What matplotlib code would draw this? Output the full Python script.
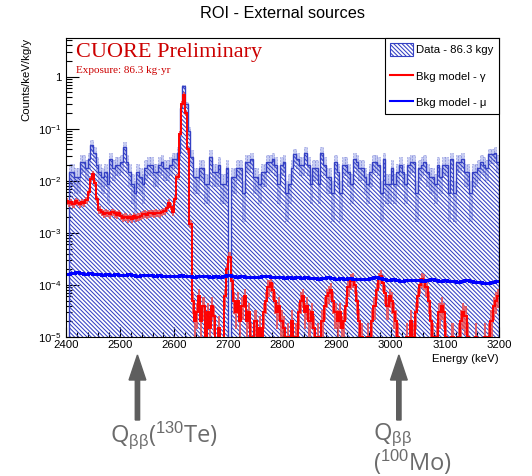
import numpy as np
import matplotlib
matplotlib.use('Agg')
import matplotlib.pyplot as plt
from matplotlib.patches import Patch, FancyArrow
from matplotlib.lines import Line2D
from matplotlib.ticker import MultipleLocator, LogLocator, FuncFormatter, NullFormatter
from matplotlib.transforms import blended_transform_factory

plt.rcParams['font.family'] = ['Liberation Sans', 'DejaVu Sans']
plt.rcParams['mathtext.fontset'] = 'custom'
plt.rcParams['mathtext.rm'] = 'Liberation Sans'
plt.rcParams['mathtext.it'] = 'Liberation Sans'
plt.rcParams['mathtext.bf'] = 'Liberation Sans:bold'
plt.rcParams['hatch.linewidth'] = 0.75

# energy window (keV)
e_min, e_max = 2400, 3200

# data histogram: counts per 5 keV bin, one count = per_count counts/keV/kg/y
data_bin = 5
per_count = 0.0029
data_counts = [
    0, 5, 5, 4, 4, 8, 8, 6, 9, 17,        # 2400-2450
    12, 7, 5, 4, 5, 3, 9, 6, 7, 7,        # 2450-2500
    8, 15, 8, 5, 3, 2, 5, 4, 3, 6,        # 2500-2550
    7, 7, 5, 5, 7, 8, 6, 6, 7, 9,         # 2550-2600
    9, 12, 86, 224, 103, 31, 10, 4, 4, 6,  # 2600-2650
    6, 3, 3, 10, 5, 5, 7, 3, 3, 6,        # 2650-2700
    0, 4, 4, 6, 6, 2, 8, 8, 9, 4,         # 2700-2750
    4, 3, 5, 5, 8, 8, 9, 7, 3, 7,         # 2750-2800
    8, 2, 3, 6, 11, 9, 7, 7, 12, 7,       # 2800-2850
    3, 6, 6, 3, 12, 7, 4, 4, 2, 8,        # 2850-2900
    5, 2, 7, 7, 5, 3, 9, 8, 6, 6,         # 2900-2950
    4, 3, 5, 8, 8, 7, 2, 9, 3, 3,         # 2950-3000
    6, 3, 5, 7, 5, 3, 7, 8, 8, 2,         # 3000-3050
    6, 7, 8, 5, 4, 4, 3, 7, 4, 7,         # 3050-3100
    7, 2, 9, 2, 8, 8, 9, 5, 5, 2,         # 3100-3150
    5, 5, 6, 8, 7, 6, 11, 11, 12, 8,      # 3150-3200
]

# background model - gamma, 4 keV bins, in units of 1e-5 counts/keV/kg/y
gamma_bin = 4
gamma_model = np.array([
    400, 370, 390, 360, 410, 380, 350, 390, 370, 420,
    600, 1100, 1350, 900, 450, 280,
    250, 230, 245, 240, 225, 250, 235, 220, 240,
    210, 195, 205, 190, 200, 185, 210, 195, 205,
    215, 225, 230, 220, 235, 240, 230, 245, 240, 235, 250, 260, 300,
    380, 320, 250,
    450, 1200, 8000, 30000, 45000, 20000, 4000, 150, 5, 2,
    3, 6, 2, 4, 0, 3, 1.5, 4, 2.5, 0, 1.5, 0, 0,
    6, 20, 35, 12, 5,
    3, 5, 2, 4, 6, 2, 3,
    1, 0, 2, 0, 1.5, 0, 3, 5,
    9, 11, 8,
    5, 3, 4, 2, 1.5,
    0, 1, 0, 2, 0, 1, 3,
    5, 6,
    3, 4, 2, 3, 1.5,
    0, 1, 0, 2,
    4, 6, 7, 8, 5, 3,
    2, 3, 1.5, 2, 4,
    9, 12, 13, 10, 5,
    2, 1, 0, 0, 1, 0, 2,
    4, 8, 13, 15, 11,
    7, 4, 6, 5, 3,
    2, 1, 0, 0, 0,
    1, 0, 2, 1, 3,
    6, 10, 13, 12, 9, 5,
    2, 1, 0, 1, 3,
    4, 3, 1,
    0, 0, 1, 0, 0, 1, 2,
    3, 2.5, 1, 0,
    0, 0, 1, 0, 0, 0, 1, 0,
    1, 2, 4, 5, 6,
]) * 1e-5

# background model - muons, 8 keV bins, in units of 1e-5
mu_bin = 8
mu_model = np.array([
    16.5, 17.0, 17.5, 16.8, 16.2, 16.6, 16.0, 16.4, 15.8, 16.3, 15.5, 16.0, 15.6,
    15.2, 15.9, 15.4, 15.0, 15.6, 15.2, 15.5, 14.9, 15.3, 15.0, 14.6, 15.1,
    14.8, 15.2, 14.7, 15.0, 14.5, 14.9, 14.6, 15.1, 14.4, 14.8, 14.3, 14.9, 15.4,
    14.6, 14.2, 14.7, 14.3, 14.0, 14.5, 14.1, 14.6, 15.0, 14.4, 14.0, 14.3, 13.8,
    14.2, 13.7, 14.0, 13.5, 13.9, 13.3, 13.7, 13.2, 13.6, 13.9, 13.4, 13.0,
    13.4, 13.0, 13.3, 12.9, 13.2, 12.8, 13.1, 13.5, 14.0, 13.6, 13.0, 12.6, 12.9,
    12.4, 12.0, 12.5, 12.2, 12.7, 12.3, 12.0, 12.4, 12.8, 12.3, 12.0, 12.2,
    11.8, 12.1, 11.6, 11.9, 12.3, 11.7, 11.3, 11.6, 11.0, 10.8, 11.4, 11.7,
]) * 1e-5

# Q-value arrow positions as drawn on the slide (keV)
q_arrows = [2532, 3015]

labels = ['Data - 86.3 kgy', 'Bkg model - \u03b3', 'Bkg model - \u03bc']

hist_blue = '#3440c4'
err_blue = '#c6ccf2'
arrow_gray = '#5e5e5e'
text_gray = '#6b6b6b'
cuore_red = '#cc0000'
hatch = r'\\\\\\\\'
floor = 1e-8

fig = plt.figure(figsize=(5.32, 4.76), dpi=100)
ax = fig.add_axes([66 / 532, 1 - 337 / 476, 433 / 532, 299 / 476])
ax.set_yscale('log')

# data histogram
counts = np.array(data_counts, dtype=float)
rate = counts * per_count
edges = e_min + data_bin * np.arange(len(counts) + 1)
centers = edges[:-1] + data_bin / 2
shown = np.where(rate > 0, rate, floor)

nz = counts > 0
err = np.sqrt(counts) * per_count
ax.bar(centers[nz], 2 * err[nz], bottom=rate[nz] - err[nz], width=data_bin,
       color=err_blue, edgecolor=hist_blue, linewidth=0.4, linestyle=':', zorder=1)
ax.stairs(shown, edges, baseline=floor, fill=True, facecolor='none',
          edgecolor=hist_blue, hatch=hatch, linewidth=0, zorder=2)
ax.stairs(shown, edges, baseline=floor, color=hist_blue, linewidth=1.0, zorder=3)

# gamma model with statistical band
g_edges = e_min + gamma_bin * np.arange(len(gamma_model) + 1)
g_err = 0.12 * gamma_model + np.sqrt(gamma_model * 5e-6)
g_lo = np.clip(gamma_model - g_err, floor, None)
g_hi = np.where(gamma_model + g_err > 0, gamma_model + g_err, floor)
ax.stairs(g_hi, g_edges, baseline=g_lo, fill=True, color='#f04040', alpha=0.75,
          linewidth=0, zorder=4)
ax.stairs(np.where(gamma_model > 0, gamma_model, floor), g_edges, baseline=None,
          color='red', linewidth=1.4, zorder=5)

# muon model
m_edges = e_min + mu_bin * np.arange(len(mu_model) + 1)
ax.stairs(mu_model, m_edges, baseline=None, color='#0000ff', linewidth=2.2, zorder=6)

ax.set_xlim(e_min, e_max)
ax.set_ylim(1e-5, 5.5)

ax.xaxis.set_major_locator(MultipleLocator(100))
ax.xaxis.set_minor_locator(MultipleLocator(20))
ax.yaxis.set_major_locator(LogLocator(base=10, numticks=12))
ax.yaxis.set_minor_locator(LogLocator(base=10, subs=np.arange(2, 10), numticks=12))
ax.yaxis.set_minor_formatter(NullFormatter())
ax.yaxis.set_major_formatter(FuncFormatter(
    lambda v, p: '1' if abs(v - 1) < 1e-9 else r'$10^{%d}$' % round(np.log10(v))))

ax.tick_params(which='both', direction='in', top=False, right=False, width=0.8)
ax.tick_params(axis='x', which='major', length=7, labelsize=8.2, pad=2)
ax.tick_params(axis='x', which='minor', length=3.5)
ax.tick_params(axis='y', which='major', length=9, labelsize=8.2, pad=3)
ax.tick_params(axis='y', which='minor', length=4.5)
for s in ax.spines.values():
    s.set_linewidth(0.8)
    s.set_zorder(10)

# legend
handles = [Patch(facecolor='none', edgecolor=hist_blue, hatch=hatch, linewidth=0.8),
           Line2D([], [], color='red', linewidth=1.5),
           Line2D([], [], color='#0000ff', linewidth=1.5)]
leg = ax.legend(handles, labels, loc='upper right', bbox_to_anchor=(1, 1),
                borderaxespad=0, fancybox=False, edgecolor='black', framealpha=1,
                fontsize=8.2, handlelength=2.0, handleheight=1.3, labelspacing=1.25,
                borderpad=0.45, handletextpad=0.35)
leg.get_frame().set_linewidth(0.8)
leg.set_zorder(20)

# texts
fig.text(282.5 / 532, 1 - 14 / 476, 'ROI - External sources', ha='center', va='center',
         fontsize=11.7)
fig.text(26 / 532, 1 - 38 / 476, 'Counts/keV/kg/y', rotation=90, ha='center', va='top',
         fontsize=8.2)
fig.text(499 / 532, 1 - 359 / 476, 'Energy (keV)', ha='right', va='center', fontsize=8.2)
fig.text(76 / 532, 1 - 57 / 476, 'CUORE Preliminary', family='Liberation Serif',
         color=cuore_red, fontsize=16, va='baseline')
fig.text(76 / 532, 1 - 73 / 476, 'Exposure: 86.3 kg\u00b7yr', family='Liberation Serif',
         color=cuore_red, fontsize=8, va='baseline')

# Q-value arrows
trans = blended_transform_factory(ax.transData, fig.transFigure)
for q in q_arrows:
    arr = FancyArrow(q, 1 - 420 / 476, 0, 65 / 476, width=8, head_width=31,
                     head_length=25 / 476, length_includes_head=True,
                     color=arrow_gray, transform=trans, clip_on=False)
    fig.add_artist(arr)

fig.text(110 / 532, 1 - 442 / 476, r'Q$_{\beta\beta}$($^{130}$Te)', family='Open Sans',
         fontsize=17, color=text_gray, va='baseline')
fig.text(373 / 532, 1 - 471 / 476, 'Q$_{\\beta\\beta}$\n($^{100}$Mo)', family='Open Sans',
         fontsize=17, color=text_gray, va='baseline', linespacing=0.95)

fig.savefig('out.png', dpi=100)
